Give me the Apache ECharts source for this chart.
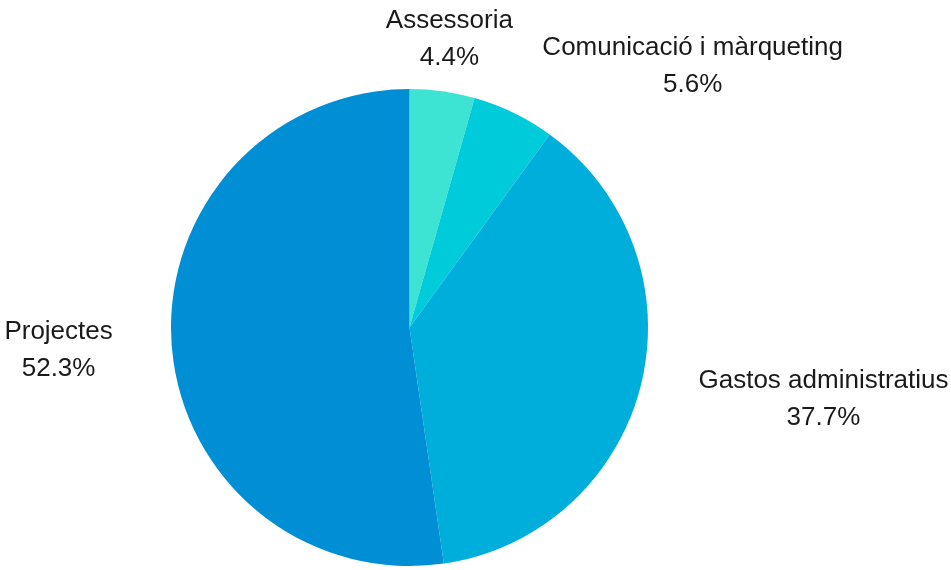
<!DOCTYPE html>
<html>
<head>
<meta charset="utf-8">
<script src="https://cdn.jsdelivr.net/npm/echarts@6/dist/echarts.min.js"></script>
<style>
html,body{margin:0;padding:0;background:#fff;}
#chart{width:951px;height:570px;}
</style>
</head>
<body>
<div id="chart"></div>
<script>
const categories = ['Assessoria', 'Comunicació i màrqueting', 'Gastos administratius', 'Projectes'];
const values = [4.4, 5.6, 37.7, 52.3];
const colors = ['#3de3d3', '#00cbdb', '#00aedc', '#008fd5'];
// horizontal nudge for the crowded top label (keeps it clear of its neighbour)
const labelNudgeX = [-69, 0, 0, 0];

const chart = echarts.init(document.getElementById('chart'), null, {renderer: 'canvas'});
chart.setOption({
  animation: false,
  color: colors,
  series: [{
    type: 'pie',
    center: [409.5, 327.5],
    radius: 238.5,
    startAngle: 90,
    clockwise: true,
    avoidLabelOverlap: false,
    data: categories.map((c, i) => ({name: c, value: values[i]})),
    label: {
      show: true,
      position: 'outside',
      overflow: 'none',
      formatter: p => '{n|' + p.name + '}\n{n|' + p.value.toFixed(1) + '%}',
      rich: {
        n: {
          fontFamily: '"Liberation Sans", Arial, sans-serif',
          fontSize: 26,
          lineHeight: 37,
          color: '#1a1a1a',
          align: 'center'
        }
      }
    },
    labelLayout: p => ({dx: labelNudgeX[p.dataIndex], dy: 2}),
    labelLine: {show: false, length: 54, length2: 0},
    itemStyle: {borderWidth: 0}
  }]
});
</script>
</body>
</html>
